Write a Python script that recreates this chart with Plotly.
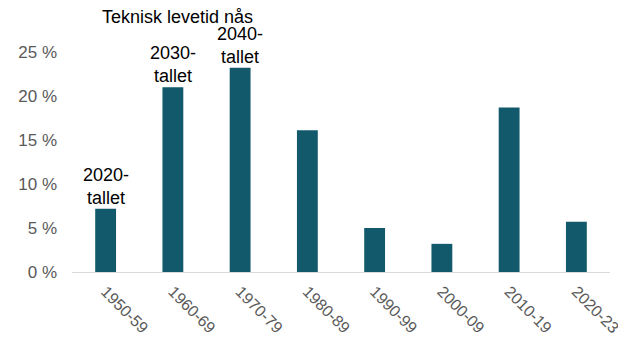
import plotly.graph_objects as go

categories = ["1950-59", "1960-69", "1970-79", "1980-89", "1990-99", "2000-09", "2010-19", "2020-23"]
values = [7.2, 21.0, 23.2, 16.1, 5.0, 3.2, 18.7, 5.7]
ytick_vals = [0, 5, 10, 15, 20, 25]
ytick_text = ["0 %", "5 %", "10 %", "15 %", "20 %", "25 %"]
label_cats = ["1950-59", "1960-69", "1970-79"]
label_texts = ["2020-<br>tallet", "2030-<br>tallet", "2040-<br>tallet"]
title_text = "Teknisk levetid nås"

val_by_cat = dict(zip(categories, values))
FONT = "Liberation Sans, Arial, Helvetica, sans-serif"

fig = go.Figure(go.Bar(
    x=categories, y=values,
    marker=dict(color="#12596b", line=dict(width=0)),
))

for c, t in zip(label_cats, label_texts):
    fig.add_annotation(x=c, y=val_by_cat[c], text=t, showarrow=False,
                       xanchor="center", yanchor="bottom", yshift=0, borderpad=0,
                       font=dict(family=FONT, size=18, color="#000000"))

fig.add_annotation(x=0.196, xref="paper", y=29.0, yref="y", text=title_text,
                   showarrow=False, xanchor="center", yanchor="middle", borderpad=0,
                   font=dict(family=FONT, size=18, color="#000000"))

fig.update_layout(
    width=626, height=339,
    margin=dict(l=64, r=24, t=0, b=75),
    paper_bgcolor="white", plot_bgcolor="white",
    bargap=0.69,
    showlegend=False,
    font=dict(family=FONT, size=17, color="#595959"),
)
fig.update_xaxes(type="category", tickangle=45, showline=True, linecolor="#d9d9d9", linewidth=1,
                 ticks="", showgrid=False, automargin=False, ticklabelstandoff=3,
                 tickfont=dict(family=FONT, size=16, color="#595959"))
fig.update_yaxes(range=[0, 30], tickvals=ytick_vals, ticktext=ytick_text,
                 showgrid=False, zeroline=False, showline=False, ticks="",
                 automargin=False, ticklabelstandoff=14,
                 tickfont=dict(family=FONT, size=17, color="#595959"))

fig.write_html("out.html")
